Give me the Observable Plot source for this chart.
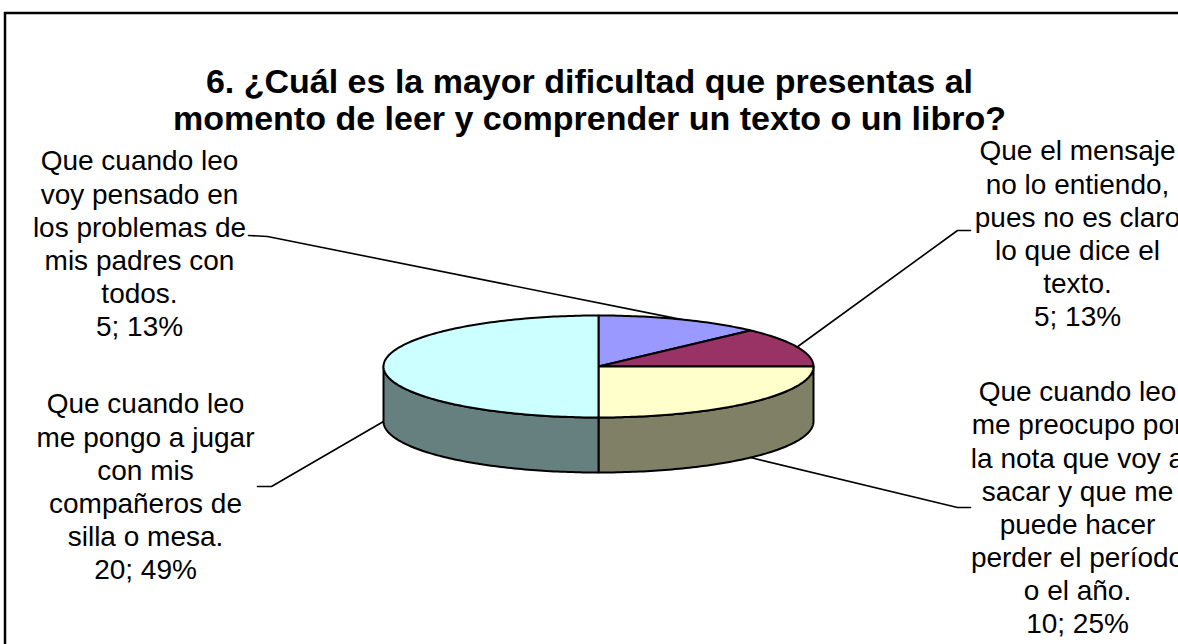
<!DOCTYPE html>
<html>
<head>
<meta charset="utf-8">
<script src="https://cdn.jsdelivr.net/npm/d3@7"></script>
<script src="https://cdn.jsdelivr.net/npm/@observablehq/plot@0.6"></script>
<style>
  html, body { margin: 0; padding: 0; background: #fff; overflow: hidden; }
  #chart svg { display: block; }
</style>
</head>
<body>
<div id="chart"></div>
<script>
// ---------------- DATA ----------------
const titleLines = [
  "6. ¿Cuál es la mayor dificultad que presentas al",
  "momento de leer y comprender un texto o un libro?"
];
const categoryLines = [
  ["Que cuando leo", "voy pensado en", "los problemas de", "mis padres con", "todos."],
  ["Que el mensaje", "no lo entiendo,", "pues no es claro", "lo que dice el", "texto."],
  ["Que cuando leo", "me preocupo por", "la nota que voy a", "sacar y que me", "puede hacer", "perder el período", "o el año."],
  ["Que cuando leo", "me pongo a jugar", "con mis", "compañeros de", "silla o mesa."]
];
const values = [5, 5, 10, 20];
const percentLabels = ["13%", "13%", "25%", "49%"];
const sliceColors = ["#9999FF", "#993366", "#FFFFCC", "#CCFFFF"];

// ---------------- LAYOUT ----------------
const W = 1178, H = 644;
const pieGeom = { cx: 598, cy: 366, rx: 215, ry: 51, depth: 55 };
const labelLayout = [
  { x: 139, y: 242, elbow: [[248, 235], [267, 236]] },
  { x: 1077, y: 232, elbow: [[970, 230], [957, 230]] },
  { x: 1077, y: 506, elbow: [[970, 507], [957, 507]] },
  { x: 145, y: 485, elbow: [[257, 486], [271, 486]] }
];
const titlePos = { x: 589, y: 99 };
const border = { x1: 5, y1: 13, x2: 1200, y2: 700 };
const fontFamily = "'Liberation Sans', Arial, Helvetica, sans-serif";

// ---------------- GEOMETRY (from data) ----------------
const arcs = d3.pie().sort(null).value(d => d)(values);
const { cx, cy, rx, ry, depth } = pieGeom;
const pt = (a, dy = 0) => ({ x: cx + rx * Math.sin(a), y: cy - ry * Math.cos(a) + dy });
const arcPts = (a0, a1, dy) => {
  const n = Math.max(2, Math.ceil((a1 - a0) / (Math.PI / 180)));
  return d3.range(n + 1).map(i => pt(a0 + (a1 - a0) * i / n, dy));
};
const darker = c => { const r = d3.rgb(c); return d3.rgb(r.r / 2, r.g / 2, r.b / 2).formatHex(); };

// Side faces (front half only: angles PI/2 .. 3PI/2)
const sidePolys = [];
arcs.forEach((a, i) => {
  const s = Math.max(a.startAngle, Math.PI / 2), e = Math.min(a.endAngle, 3 * Math.PI / 2);
  if (e > s) {
    const top = arcPts(s, e, 0), bot = arcPts(s, e, depth).reverse();
    sidePolys.push({ fill: darker(sliceColors[i]), pts: top.concat(bot, [top[0]]) });
  }
});
// Top faces
const topPolys = arcs.map((a, i) => {
  const c = { x: cx, y: cy };
  return { fill: sliceColors[i], pts: [c, ...arcPts(a.startAngle, a.endAngle, 0), c] };
});
// Leader lines
const leaders = arcs.map((a, i) => {
  const mid = (a.startAngle + a.endAngle) / 2;
  const front = Math.cos(mid) < 1e-9;
  const anchor = pt(mid, front ? depth : 0);
  const [e0, e1] = labelLayout[i].elbow;
  return [{ x: e0[0], y: e0[1] }, { x: e1[0], y: e1[1] }, anchor];
});
// Labels text
const labels = arcs.map((a, i) => ({
  x: labelLayout[i].x, y: labelLayout[i].y,
  text: categoryLines[i].concat([`${values[i]}; ${percentLabels[i]}`]).join("\n")
}));

const chart = Plot.plot({
  width: W, height: H,
  margin: 0,
  x: { domain: [0, W], range: [0, W], axis: null },
  y: { domain: [0, H], range: [0, H], axis: null },
  style: { fontFamily, background: "#fff" },
  marks: [
    Plot.rect([border], { x1: "x1", y1: "y1", x2: "x2", y2: "y2", fill: "none", stroke: "#000", strokeWidth: 2.5 }),
    ...leaders.map(l => Plot.line(l, { x: "x", y: "y", stroke: "#000", strokeWidth: 1.6 })),
    ...sidePolys.map(p => Plot.line(p.pts, { x: "x", y: "y", fill: p.fill, stroke: "#000", strokeWidth: 2, strokeLinejoin: "round" })),
    ...topPolys.map(p => Plot.line(p.pts, { x: "x", y: "y", fill: p.fill, stroke: "#000", strokeWidth: 2, strokeLinejoin: "round" })),
    Plot.text(labels, { x: "x", y: "y", text: "text", fontSize: 28, lineHeight: 1.18, lineAnchor: "middle", textAnchor: "middle", fill: "#000" }),
    Plot.text([titlePos], { x: "x", y: "y", text: () => titleLines.join("\n"), fontSize: 34, fontWeight: "bold", lineHeight: 1.09, lineAnchor: "middle", textAnchor: "middle", fill: "#000" })
  ]
});
document.getElementById("chart").appendChild(chart);
</script>
</body>
</html>
